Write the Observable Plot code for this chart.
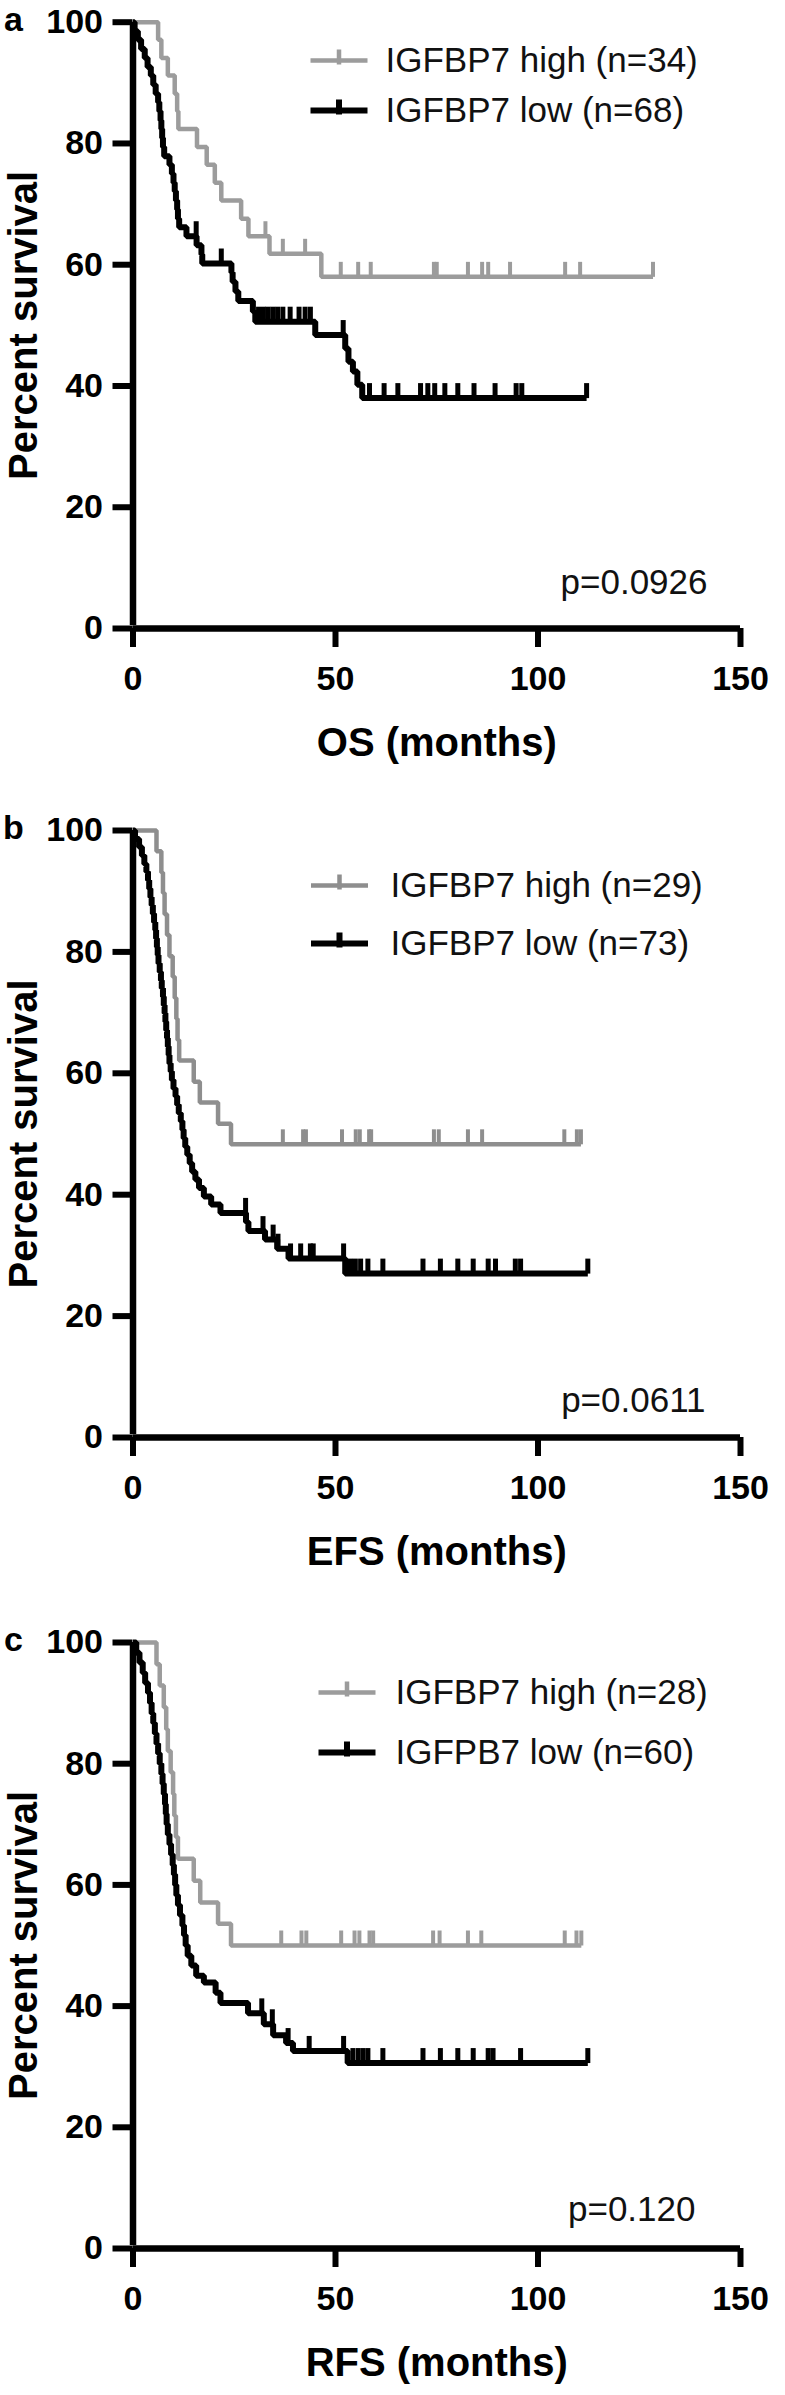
<!DOCTYPE html>
<html><head><meta charset="utf-8">
<script src="https://cdn.jsdelivr.net/npm/d3@7"></script>
<script src="https://cdn.jsdelivr.net/npm/@observablehq/plot@0.6"></script>
<style>
html,body{margin:0;padding:0;background:#fff;}
#chart{width:785px;}
#chart svg{display:block;}
</style></head><body><div id="chart"></div>
<script>
// ---- tick values and texts ----
const monthTicks = [0, 50, 100, 150];
const percentTicks = [0, 20, 40, 60, 80, 100];
const panelLetters = ["a", "b", "c"];
const xTitles = ["OS (months)", "EFS (months)", "RFS (months)"];
const yTitle = "Percent survival";
const pValues = ["p=0.0926", "p=0.0611", "p=0.120"];
const highLabels = ["IGFBP7 high (n=34)", "IGFBP7 high (n=29)", "IGFBP7 high (n=28)"];
const lowLabels = ["IGFBP7 low (n=68)", "IGFBP7 low (n=73)", "IGFPB7 low (n=60)"];

// ---- Kaplan-Meier steps: [month, percent survival after the step] ----
const osHigh = [[0,100],[6.2,97.1],[7.0,94.1],[8.6,91.2],[10.3,88.2],[10.9,85.3],[11.2,82.4],[15.8,79.4],[18.2,76.5],[20.2,73.5],[21.8,70.6],[26.7,67.6],[28.5,64.7],[33.7,61.8],[46.5,58.0]];
const osHighCensor = [32.7, 37.0, 42.5, 51.3, 55.6, 58.7, 74.3, 75.0, 82.7, 86.2, 87.7, 93.1, 106.7, 110.4, 128.4];
const osLow = [[0,100],[0.4,98.5],[1.2,97.1],[2.0,95.6],[2.9,94.1],[3.6,92.6],[4.4,91.2],[5.0,89.7],[5.6,88.2],[6.2,86.8],[6.5,85.3],[6.8,83.8],[7.0,82.4],[7.2,80.9],[7.4,79.4],[7.7,77.9],[9.0,76.5],[9.6,75.0],[10.0,73.5],[10.3,72.1],[10.6,70.6],[10.9,69.1],[11.1,67.6],[11.4,66.2],[13.2,64.7],[15.7,63.2],[16.9,61.7],[17.1,60.2],[24.3,58.7],[24.6,57.2],[25.3,55.6],[26.0,54.0],[29.6,52.3],[30.2,50.6],[45.0,48.4],[52.4,46.2],[53.2,44.0],[54.3,42.4],[55.4,40.2],[56.6,38.0]];
const osLowCensor = [15.6, 21.8, 31.0, 32.2, 33.3, 34.5, 35.7, 37.0, 38.8, 41.0, 42.5, 43.8, 51.9, 58.4, 62.0, 65.4, 71.0, 72.8, 74.5, 77.0, 80.2, 84.2, 89.4, 94.6, 96.0, 112.0];

const efsHigh = [[0,100],[5.8,96.6],[7.0,93.1],[7.4,89.7],[7.8,86.2],[8.4,82.8],[9.0,79.3],[9.8,75.9],[10.3,72.4],[10.7,69.0],[11.0,65.5],[11.4,62.1],[15.0,58.6],[16.5,55.2],[21.0,51.7],[24.2,48.3]];
const efsHighCensor = [37.0, 42.0, 42.7, 51.6, 55.0, 56.0, 58.3, 58.8, 74.3, 75.5, 82.7, 86.2, 106.5, 109.6, 110.6];
const efsLow = [[0,100],[0.5,98.6],[1.5,97.3],[2.2,95.9],[2.8,94.5],[3.3,93.2],[3.7,91.8],[4.0,90.4],[4.3,89.0],[4.6,87.7],[4.9,86.3],[5.2,84.9],[5.5,83.6],[5.7,82.2],[5.9,80.8],[6.1,79.5],[6.3,78.1],[6.6,76.7],[6.9,75.3],[7.1,74.0],[7.4,72.6],[7.6,71.2],[7.8,69.9],[8.0,68.5],[8.2,67.1],[8.4,65.8],[8.6,64.4],[8.8,63.0],[9.0,61.6],[9.3,60.3],[9.6,58.9],[10.0,57.5],[10.5,56.2],[10.9,54.8],[11.3,53.4],[11.8,52.1],[12.2,50.7],[12.5,49.3],[12.9,47.9],[13.4,46.6],[14.0,45.2],[14.6,43.8],[15.4,42.5],[16.3,41.1],[17.5,39.7],[19.3,38.4],[21.6,37.0],[27.9,35.5],[28.5,34.0],[32.6,32.6],[35.6,31.1],[38.4,29.5],[52.4,27.0]];
const efsLowCensor = [27.8, 32.1, 34.6, 35.8, 38.9, 41.4, 43.8, 44.5, 52.0, 53.7, 54.9, 56.2, 58.0, 61.7, 71.6, 75.9, 80.2, 84.0, 87.7, 89.5, 94.4, 95.7, 112.3];

const rfsHigh = [[0,100],[5.8,96.4],[6.6,92.9],[7.6,89.3],[8.2,85.7],[8.6,82.1],[9.3,78.6],[9.9,75.0],[10.2,71.4],[10.6,67.9],[11.1,64.3],[15.0,60.7],[16.6,57.1],[21.0,53.6],[24.2,50.0]];
const rfsHighCensor = [36.6, 41.6, 42.8, 51.4, 54.7, 55.9, 58.4, 59.3, 74.1, 75.7, 82.7, 86.0, 106.6, 109.5, 110.7];
const rfsLow = [[0,100],[0.8,98.3],[1.6,96.7],[2.4,95.0],[3.0,93.3],[3.7,91.7],[4.2,90.0],[4.6,88.3],[5.0,86.7],[5.4,85.0],[5.8,83.3],[6.2,81.7],[6.6,80.0],[7.0,78.3],[7.3,76.7],[7.6,75.0],[7.9,73.3],[8.1,71.7],[8.3,70.0],[8.6,68.3],[9.0,66.7],[9.4,65.0],[9.8,63.3],[10.1,61.7],[10.4,60.0],[10.7,58.3],[11.1,56.7],[11.6,55.0],[12.2,53.3],[12.6,51.7],[13.0,50.0],[13.5,48.3],[14.4,46.7],[15.6,45.0],[17.5,43.9],[20.4,42.2],[21.6,40.5],[28.4,38.8],[32.3,37.0],[34.6,35.2],[37.8,33.9],[39.5,32.6],[53.0,30.6]];
const rfsLowCensor = [31.8, 34.4, 38.3, 43.5, 52.0, 54.3, 55.6, 56.8, 58.0, 61.7, 71.6, 75.9, 80.2, 84.0, 87.7, 88.9, 95.7, 112.3];

// ---- layout (pixels) ----
const layouts = [
  {height: 800, mt: 21.7, mb: 172, gray: "#9c9c9c", legDx: 206, legDy: [38.3, 88.3], legTextDx: 252.5, pDx: -33, pDy: -46},
  {height: 800, mt: 30, mb: 163, gray: "#8e8e8e", legDx: 206.5, legDy: [55, 113], legTextDx: 257.5, pDx: -35, pDy: -37},
  {height: 795, mt: 42, mb: 147, gray: "#9c9c9c", legDx: 214, legDy: [50, 110], legTextDx: 262.5, pDx: -45, pDy: -39}
];
const series = [
  {high: osHigh, highCensor: osHighCensor, low: osLow, lowCensor: osLowCensor},
  {high: efsHigh, highCensor: efsHighCensor, low: efsLow, lowCensor: efsLowCensor},
  {high: rfsHigh, highCensor: rfsHighCensor, low: rfsLow, lowCensor: rfsLowCensor}
];

function survAt(steps, t) {
  let v = steps[0][1];
  for (const [st, sv] of steps) if (st <= t) v = sv;
  return v;
}
function curve(steps, censor) {
  const end = d3.max(censor);
  const last = steps[steps.length - 1];
  return end > last[0] ? steps.concat([[end, last[1]]]) : steps;
}
function censorPts(steps, censor) {
  return censor.map(t => ({t, s: survAt(steps, t)}));
}

const censorTick = {draw(ctx) { ctx.moveTo(0, 0); ctx.lineTo(0, -15); }};
const legendSym = {draw(ctx) { ctx.moveTo(-28.5, 0); ctx.lineTo(28.5, 0); ctx.moveTo(0, -11); ctx.lineTo(0, 4); }};

const FONT = "'Liberation Sans', Arial, Helvetica, sans-serif";
const root = document.getElementById("chart");

series.forEach((s, i) => {
  const L = layouts[i];
  const plot = Plot.plot({
    width: 785,
    height: L.height,
    marginLeft: 132.5,
    marginRight: 45,
    marginTop: L.mt,
    marginBottom: L.mb,
    x: {domain: [0, 150]},
    y: {domain: [0, 100]},
    style: {fontFamily: FONT, color: "#000", background: "#fff", overflow: "visible"},
    marks: [
      Plot.axisY(percentTicks, {tickSize: 20, tickPadding: 10, strokeWidth: 6, fontSize: 34, fontWeight: "bold", label: null}),
      Plot.axisX(monthTicks, {tickSize: 19, tickPadding: 18, strokeWidth: 6, fontSize: 34, fontWeight: "bold", label: null}),
      Plot.ruleX([0], {y1: 0, y2: 100, strokeWidth: 6.5, insetTop: -3}),
      Plot.ruleY([0], {x1: 0, x2: 150, strokeWidth: 6.5}),
      // gray (high) curve
      Plot.line(curve(s.high, s.highCensor), {x: d => d[0], y: d => d[1], curve: "step-after", stroke: L.gray, strokeWidth: 4.5, strokeLinejoin: "miter", strokeLinecap: "butt"}),
      Plot.dot(censorPts(s.high, s.highCensor), {x: "t", y: "s", symbol: censorTick, stroke: L.gray, strokeWidth: 4, fill: "none", r: 5}),
      // black (low) curve
      Plot.line(curve(s.low, s.lowCensor), {x: d => d[0], y: d => d[1], curve: "step-after", stroke: "#000", strokeWidth: 6, strokeLinejoin: "miter", strokeLinecap: "butt"}),
      Plot.dot(censorPts(s.low, s.lowCensor), {x: "t", y: "s", symbol: censorTick, stroke: "#000", strokeWidth: 5, fill: "none", r: 5}),
      // legend
      Plot.dot([0], {frameAnchor: "top-left", dx: L.legDx, dy: L.legDy[0], symbol: legendSym, stroke: L.gray, strokeWidth: 4.5, fill: "none", r: 5}),
      Plot.dot([0], {frameAnchor: "top-left", dx: L.legDx, dy: L.legDy[1], symbol: legendSym, stroke: "#000", strokeWidth: 6, fill: "none", r: 5}),
      Plot.text([highLabels[i]], {text: d => d, frameAnchor: "top-left", dx: L.legTextDx, dy: L.legDy[0], textAnchor: "start", lineAnchor: "middle", fontSize: 35, fill: "#111"}),
      Plot.text([lowLabels[i]], {text: d => d, frameAnchor: "top-left", dx: L.legTextDx, dy: L.legDy[1], textAnchor: "start", lineAnchor: "middle", fontSize: 35, fill: "#111"}),
      // p value
      Plot.text([pValues[i]], {text: d => d, frameAnchor: "bottom-right", dx: L.pDx, dy: L.pDy, textAnchor: "end", lineAnchor: "middle", fontSize: 35, fill: "#111"}),
      // titles
      Plot.text([xTitles[i]], {text: d => d, frameAnchor: "bottom", dy: 115, textAnchor: "middle", lineAnchor: "middle", fontSize: 40, fontWeight: "bold"}),
      Plot.text([yTitle], {text: d => d, frameAnchor: "left", dx: -109, rotate: -90, textAnchor: "middle", lineAnchor: "middle", fontSize: 40, fontWeight: "bold"}),
      Plot.text([panelLetters[i]], {text: d => d, frameAnchor: "top-left", dx: -119.5, dy: -2, textAnchor: "middle", lineAnchor: "middle", fontSize: 34, fontWeight: "bold"})
    ]
  });
  root.appendChild(plot);
});
</script>
</body></html>
